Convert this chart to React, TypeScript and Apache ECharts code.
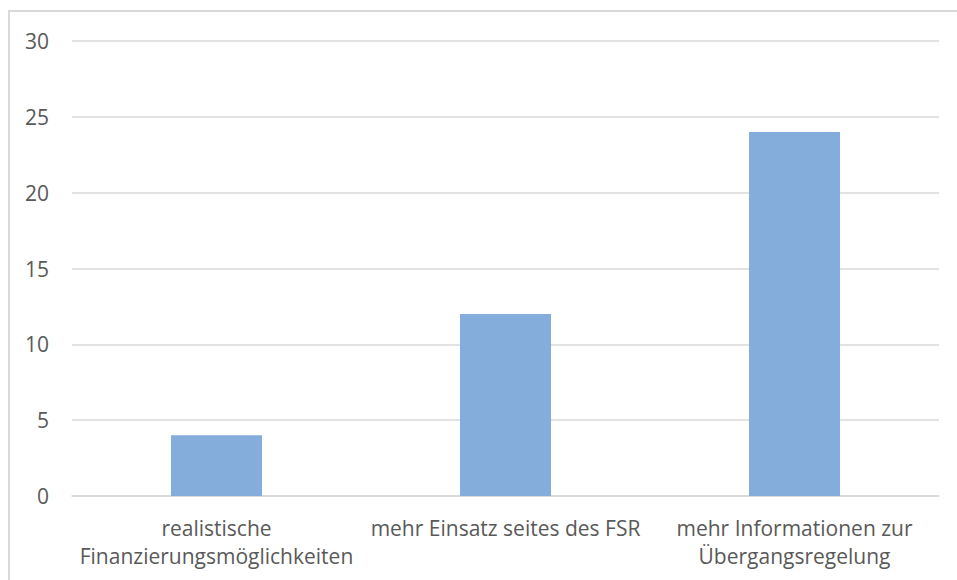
import React, { useEffect, useRef } from "react";
import * as echarts from "echarts";

const categories = [
  "realistische\nFinanzierungsmöglichkeiten",
  "mehr Einsatz seites des FSR",
  "mehr Informationen zur\nÜbergangsregelung",
];
const values = [4, 12, 24];
const yTicks = { min: 0, max: 30, interval: 5 };

export default function App() {
  const ref = useRef<HTMLDivElement>(null);
  useEffect(() => {
    const chart = echarts.init(ref.current!, null, { renderer: "svg" });
    chart.setOption({
      animation: false,
      backgroundColor: "#ffffff",
      textStyle: { fontFamily: "Open Sans" },
      graphic: [
        {
          type: "rect",
          shape: { x: 9, y: 11, width: 1000, height: 700 },
          style: { fill: "none", stroke: "#d9d9d9", lineWidth: 2 },
          silent: true,
        },
      ],
      grid: { left: 72, right: 18, top: 41, bottom: 84, containLabel: false },
      xAxis: {
        type: "category",
        data: categories,
        axisLine: { show: true, lineStyle: { color: "#d9d9d9", width: 1.5 } },
        axisTick: { show: false },
        axisLabel: {
          color: "#595959",
          fontSize: 21,
          lineHeight: 28,
          margin: 18,
          interval: 0,
        },
      },
      yAxis: {
        type: "value",
        min: yTicks.min,
        max: yTicks.max,
        interval: yTicks.interval,
        axisLine: { show: false },
        axisTick: { show: false },
        splitLine: { lineStyle: { color: "#d9d9d9", width: 1.5 } },
        axisLabel: { color: "#595959", fontSize: 21, margin: 23 },
      },
      series: [
        {
          type: "bar",
          data: values,
          barWidth: "31.5%",
          itemStyle: { color: "#85addb" },
        },
      ],
    });
    return () => chart.dispose();
  }, []);
  return (
    <div
      ref={ref}
      style={{ position: "absolute", left: 0, top: 0, width: 957, height: 580 }}
    />
  );
}
